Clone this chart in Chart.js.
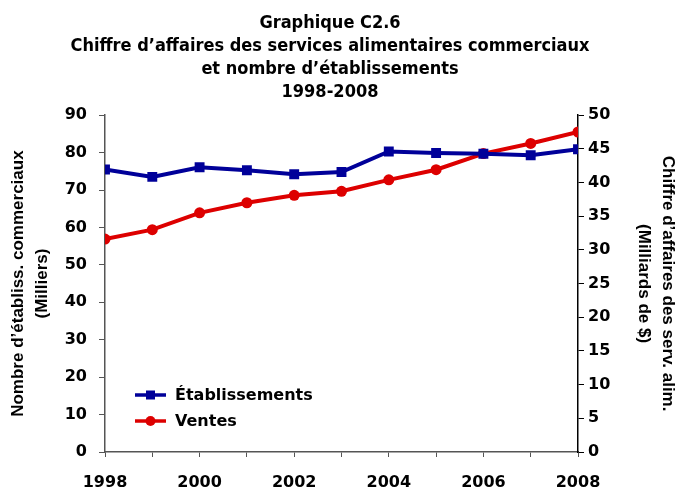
<!DOCTYPE html>
<html>
<head>
<meta charset="utf-8">
<script src="https://cdn.jsdelivr.net/npm/chart.js@4.4.1/dist/chart.umd.min.js"></script>
<style>
  html, body { margin: 0; padding: 0; background: #fff; }
  #wrap { width: 679px; height: 489px; }
</style>
</head>
<body>
<div id="wrap"><canvas id="myChart" width="679" height="489"></canvas></div>
<script>
// années et séries
var annees = [1998, 1999, 2000, 2001, 2002, 2003, 2004, 2005, 2006, 2007, 2008];
var etablissements = [75.5, 73.5, 76.1, 75.3, 74.2, 74.8, 80.3, 79.9, 79.7, 79.3, 80.9]; // milliers
var ventes = [31.6, 33.0, 35.5, 37.0, 38.1, 38.7, 40.4, 41.9, 44.3, 45.8, 47.5];         // milliards $

var titre = [
    'Graphique C2.6',
    'Chiffre d\u2019affaires des services alimentaires commerciaux',
    'et nombre d\u2019établissements',
    '1998-2008'
];

var bleu = 'rgb(0,0,153)';
var rouge = 'rgb(221,0,0)';
var tickFont = { family: 'DejaVu Sans', size: 16, weight: 'bold' };
var axeFont = { family: 'Liberation Sans', size: 17, weight: 'bold', lineHeight: 1.41 };

Chart.defaults.color = '#000';

function toPoints(vals) {
    return annees.map(function (a, i) { return { x: a, y: vals[i] }; });
}

// légende dessinée dans la zone du graphique
var legendeInterne = {
    id: 'legendeInterne',
    afterDraw: function (chart) {
        var ctx = chart.ctx;
        var x0 = 135, y0 = 395, pas = 26;
        ctx.save();
        chart.data.datasets.forEach(function (ds, i) {
            var y = y0 + i * pas;
            ctx.strokeStyle = ds.borderColor;
            ctx.lineWidth = 3.5;
            ctx.beginPath();
            ctx.moveTo(x0, y);
            ctx.lineTo(x0 + 31, y);
            ctx.stroke();
            ctx.fillStyle = ds.backgroundColor;
            if (ds.pointStyle === 'rect') {
                ctx.fillRect(x0 + 15.5 - 4.5, y - 4.5, 9, 9);
            } else {
                ctx.beginPath();
                ctx.arc(x0 + 15.5, y, 5, 0, Math.PI * 2);
                ctx.fill();
            }
            ctx.fillStyle = '#000';
            ctx.font = 'bold 16px "DejaVu Sans"';
            ctx.textBaseline = 'middle';
            ctx.fillText(ds.label, x0 + 40, y + 1);
        });
        ctx.restore();
    }
};

var ctx = document.getElementById('myChart').getContext('2d');
var myChart = new Chart(ctx, {
    type: 'line',
    data: {
        datasets: [{
            label: 'Établissements',
            data: toPoints(etablissements),
            yAxisID: 'y',
            borderColor: bleu,
            backgroundColor: bleu,
            borderWidth: 4,
            pointStyle: 'rect',
            pointRadius: 7,
            pointBorderWidth: 0,
            tension: 0
        }, {
            label: 'Ventes',
            data: toPoints(ventes),
            yAxisID: 'y1',
            borderColor: rouge,
            backgroundColor: rouge,
            borderWidth: 4,
            pointStyle: 'circle',
            pointRadius: 5.5,
            pointBorderWidth: 0,
            tension: 0
        }]
    },
    options: {
        responsive: false,
        animation: false,
        layout: { padding: { top: 12, left: 0, right: 19, bottom: 0 } },
        plugins: {
            legend: { display: false },
            tooltip: { enabled: false },
            title: {
                display: true,
                text: titre,
                font: { family: 'DejaVu Sans Condensed', size: 18, weight: 'bold', lineHeight: 1.28 },
                padding: { top: 0, bottom: 11 }
            }
        },
        scales: {
            x: {
                type: 'linear',
                min: 1998,
                max: 2008,
                afterFit: function (s) { s.height = 37; },
                ticks: {
                    stepSize: 1,
                    autoSkip: false,
                    maxRotation: 0,
                    font: tickFont,
                    padding: 16,
                    callback: function (v) { return v % 2 === 0 ? String(v) : ''; }
                },
                grid: { drawOnChartArea: false, tickLength: 5, color: '#555' },
                border: { color: '#555', width: 1.5 }
            },
            y: {
                position: 'left',
                min: 0,
                max: 90,
                afterFit: function (s) { s.width = 105; },
                ticks: { stepSize: 10, font: tickFont, padding: 12 },
                grid: { drawOnChartArea: false, tickLength: 6, color: '#555' },
                border: { color: '#555', width: 1.5 },
                title: {
                    display: true,
                    text: ['Nombre d\u2019établiss. commerciaux', '(Milliers)'],
                    font: axeFont,
                    padding: { top: 6, bottom: 0 }
                }
            },
            y1: {
                position: 'right',
                min: 0,
                max: 50,
                afterFit: function (s) { s.width = 82; },
                ticks: { stepSize: 5, font: tickFont, padding: 4 },
                grid: { drawOnChartArea: false, tickLength: 6, color: '#000' },
                border: { color: '#000', width: 1.5 },
                title: {
                    display: true,
                    text: ['Chiffre d\u2019affaires des serv. alim.', '(Milliards de $)'],
                    font: axeFont,
                    padding: { top: -20, bottom: 0 }
                }
            }
        }
    },
    plugins: [legendeInterne]
});
</script>
</body>
</html>
